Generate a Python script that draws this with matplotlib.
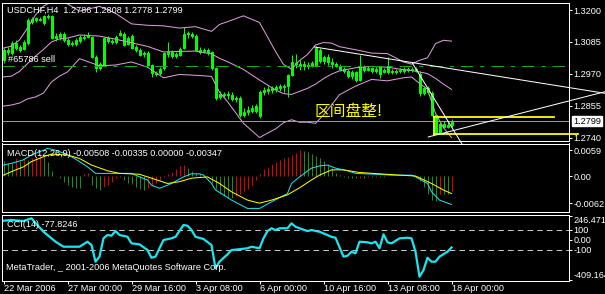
import matplotlib
matplotlib.use("Agg")
import matplotlib.pyplot as plt
from matplotlib.patches import Rectangle

plt.rcParams["font.family"] = ["Liberation Sans", "DejaVu Sans"]
plt.rcParams["lines.scale_dashes"] = False

# ---- price data (USDCHF H4, 22 Mar 08:00 .. 18 Apr 00:00) ----
opens = [1.3020, 1.3049, 1.3045, 1.3063, 1.3067, 1.3060, 1.3081, 1.3157, 1.3164, 1.3164,
         1.3153, 1.3175, 1.3178, 1.3099, 1.3103, 1.3114, 1.3092, 1.3078, 1.3078, 1.3088,
         1.3099, 1.3103, 1.3103, 1.3031, 1.2991, 1.3002, 1.3099, 1.3088, 1.3085, 1.3110,
         1.3114, 1.3078, 1.3106, 1.3067, 1.3056, 1.3042, 1.3045, 1.3002, 1.2973, 1.2973,
         1.2991, 1.3042, 1.3049, 1.3034, 1.3038, 1.3063, 1.3114, 1.3114, 1.3106, 1.3056,
         1.3052, 1.3056, 1.3049, 1.2991, 1.2887, 1.2894, 1.2898, 1.2894, 1.2880, 1.2883,
         1.2822, 1.2833, 1.2836, 1.2854, 1.2818, 1.2905, 1.2908, 1.2912, 1.2916, 1.2919,
         1.2923, 1.2926, 1.2966, 1.3009, 1.3006, 1.2998, 1.3002, 1.2998, 1.3002, 1.3056,
         1.3016, 1.3031, 1.3013, 1.3006, 1.2998, 1.2988, 1.2980, 1.2962, 1.2977, 1.2948,
         1.2995, 1.2984, 1.2991, 1.2980, 1.2995, 1.2977, 1.2977, 1.2980, 1.2977, 1.2980,
         1.2980, 1.2988, 1.2984, 1.2988, 1.2970, 1.2901, 1.2919, 1.2901, 1.2822, 1.2761,
         1.2790, 1.2779, 1.2786]
highs = [1.3063, 1.3067, 1.3088, 1.3092, 1.3074, 1.3092, 1.3171, 1.3175, 1.3175, 1.3175,
         1.3182, 1.3186, 1.3182, 1.3117, 1.3121, 1.3121, 1.3099, 1.3088, 1.3099, 1.3110,
         1.3114, 1.3121, 1.3106, 1.3038, 1.3013, 1.3103, 1.3106, 1.3096, 1.3110, 1.3128,
         1.3121, 1.3106, 1.3114, 1.3074, 1.3063, 1.3052, 1.3052, 1.3006, 1.2980, 1.2995,
         1.3049, 1.3085, 1.3056, 1.3049, 1.3067, 1.3139, 1.3124, 1.3121, 1.3114, 1.3067,
         1.3063, 1.3063, 1.3052, 1.2995, 1.2908, 1.2905, 1.2908, 1.2905, 1.2890, 1.2890,
         1.2847, 1.2854, 1.2858, 1.2862, 1.2912, 1.2923, 1.2926, 1.2926, 1.2930, 1.2934,
         1.2934, 1.2970, 1.3038, 1.3042, 1.3020, 1.3016, 1.3013, 1.3016, 1.3070, 1.3063,
         1.3038, 1.3042, 1.3027, 1.3013, 1.3006, 1.2995, 1.2988, 1.2984, 1.2980, 1.3038,
         1.3002, 1.2998, 1.2995, 1.2995, 1.2998, 1.2991, 1.3031, 1.2988, 1.2988, 1.2991,
         1.2995, 1.2995, 1.2995, 1.2995, 1.2980, 1.2926, 1.2926, 1.2908, 1.2826, 1.2797,
         1.2800, 1.2797, 1.2808]
lows = [1.3009, 1.3038, 1.3038, 1.3056, 1.3049, 1.3056, 1.3074, 1.3150, 1.3157, 1.3160,
        1.3146, 1.3168, 1.3096, 1.3088, 1.3092, 1.3085, 1.3070, 1.3070, 1.3070, 1.3081,
        1.3092, 1.3099, 1.3027, 1.2977, 1.2984, 1.2998, 1.3081, 1.3078, 1.3078, 1.3106,
        1.3070, 1.3074, 1.3060, 1.3049, 1.3034, 1.3031, 1.2998, 1.2959, 1.2962, 1.2966,
        1.2984, 1.3031, 1.3027, 1.3027, 1.3034, 1.3060, 1.3099, 1.3099, 1.3052, 1.3042,
        1.3045, 1.3038, 1.2984, 1.2876, 1.2880, 1.2883, 1.2880, 1.2872, 1.2869, 1.2815,
        1.2815, 1.2822, 1.2829, 1.2829, 1.2811, 1.2894, 1.2898, 1.2901, 1.2905, 1.2908,
        1.2905, 1.2887, 1.2962, 1.2991, 1.2984, 1.2984, 1.2988, 1.2995, 1.2998, 1.3009,
        1.3006, 1.3002, 1.2991, 1.2995, 1.2980, 1.2973, 1.2955, 1.2952, 1.2941, 1.2944,
        1.2977, 1.2980, 1.2973, 1.2973, 1.2955, 1.2973, 1.2970, 1.2970, 1.2970, 1.2973,
        1.2973, 1.2977, 1.2977, 1.2977, 1.2890, 1.2894, 1.2898, 1.2818, 1.2754, 1.2754,
        1.2775, 1.2775, 1.2778]
closes = [1.3056, 1.3056, 1.3081, 1.3081, 1.3056, 1.3085, 1.3164, 1.3168, 1.3171, 1.3168,
          1.3178, 1.3178, 1.3099, 1.3106, 1.3114, 1.3092, 1.3078, 1.3081, 1.3092, 1.3103,
          1.3103, 1.3110, 1.3031, 1.2991, 1.3006, 1.3099, 1.3088, 1.3085, 1.3103, 1.3117,
          1.3074, 1.3099, 1.3063, 1.3056, 1.3038, 1.3045, 1.3002, 1.2973, 1.2970, 1.2988,
          1.3045, 1.3049, 1.3034, 1.3042, 1.3060, 1.3114, 1.3117, 1.3106, 1.3056, 1.3049,
          1.3056, 1.3049, 1.2991, 1.2883, 1.2898, 1.2898, 1.2894, 1.2880, 1.2883, 1.2822,
          1.2833, 1.2840, 1.2847, 1.2836, 1.2905, 1.2912, 1.2916, 1.2919, 1.2923, 1.2926,
          1.2926, 1.2966, 1.3013, 1.3006, 1.2998, 1.3006, 1.2998, 1.3009, 1.3063, 1.3016,
          1.3031, 1.3013, 1.3006, 1.2998, 1.2988, 1.2980, 1.2962, 1.2977, 1.2948, 1.2995,
          1.2984, 1.2991, 1.2980, 1.2988, 1.2970, 1.2984, 1.2998, 1.2977, 1.2980, 1.2984,
          1.2988, 1.2984, 1.2988, 1.2984, 1.2901, 1.2919, 1.2905, 1.2822, 1.2757, 1.2790,
          1.2779, 1.2786, 1.2799]

# Bollinger bands (20, 2), read at these bars
band_idx = [0, 2, 4, 6, 8, 10, 12, 14, 16, 19, 24, 28, 32, 36, 40, 44, 48, 52, 54, 56,
            60, 64, 68, 70, 72, 74, 76, 78, 80, 82, 84, 88, 92, 96, 100, 102, 104, 106, 108, 110, 112]
bb_upper = [1.3063, 1.3070, 1.3092, 1.3135, 1.3182, 1.3214, 1.3229, 1.3229, 1.3222, 1.3196,
            1.3213, 1.3188, 1.3150, 1.3145, 1.3143, 1.3135, 1.3140, 1.3123, 1.3148, 1.3158,
            1.3179, 1.3155, 1.3051, 1.3004, 1.2987, 1.3018, 1.3040, 1.3074, 1.3083, 1.3081,
            1.3068, 1.3057, 1.3045, 1.3043, 1.3013, 1.3005, 1.3019, 1.3028, 1.3079, 1.3091, 1.3088]
bb_mid = [1.2959, 1.2962, 1.2979, 1.3007, 1.3034, 1.3058, 1.3085, 1.3096, 1.3099, 1.3110,
          1.3106, 1.3095, 1.3082, 1.3069, 1.3049, 1.3051, 1.3052, 1.3042, 1.3026, 1.3014,
          1.2986, 1.2948, 1.2912, 1.2899, 1.2896, 1.2907, 1.2918, 1.2933, 1.2953, 1.2969,
          1.2981, 1.2992, 1.2997, 1.2994, 1.2985, 1.2982, 1.2977, 1.2971, 1.2954, 1.2933, 1.2914]
bb_lower = [1.2854, 1.2858, 1.2865, 1.2880, 1.2887, 1.2901, 1.2941, 1.2962, 1.2977, 1.3025,
            1.2999, 1.3002, 1.3013, 1.2994, 1.2956, 1.2968, 1.2965, 1.2961, 1.2904, 1.2870,
            1.2792, 1.2741, 1.2772, 1.2794, 1.2805, 1.2796, 1.2796, 1.2792, 1.2822, 1.2858,
            1.2895, 1.2926, 1.2950, 1.2945, 1.2956, 1.2959, 1.2936, 1.2915, 1.2828, 1.2776, 1.2741]

price_ticks = [1.3200, 1.3085, 1.2970, 1.2855, 1.2740]
order_price = 1.3000
bid_price = 1.2799

# objects drawn on the chart: (bar index, price) anchors
white_lines = [((77.7, 1.3067), (150.4, 1.2900)),
               ((102.2, 1.3009), (123.4, 1.2512)),
               ((106.2, 1.2743), (150.4, 1.2906))]
box_left = 107.7
box_top = 1.2814
box_top_end = 137.5
box_bottom = 1.2754
box_bottom_end = 143.6

# MACD(12,26,9)
macd_hist = [0.0035, 0.0030, 0.0030, 0.0040, 0.0035, 0.0040, 0.0037, 0.0040, 0.0044, 0.0048,
             0.0044, 0.0033, 0.0012, 0.0000, -0.0005, -0.0013, -0.0020, -0.0025, -0.0028, -0.0028,
             0.0005, 0.0008, -0.0020, -0.0028, -0.0032, -0.0025, -0.0021, -0.0013, -0.0005, -0.0002,
             -0.0010, -0.0015, -0.0018, -0.0025, -0.0030, -0.0032, -0.0028, -0.0022, -0.0015, -0.0008,
             -0.0002, 0.0005, 0.0010, 0.0015, 0.0022, 0.0025, 0.0018, 0.0012, 0.0008, 0.0004,
             0.0002, 0.0000, -0.0015, -0.0030, -0.0040, -0.0045, -0.0050, -0.0050, -0.0045, -0.0040,
             -0.0035, -0.0030, -0.0020, -0.0010, 0.0005, 0.0015, 0.0020, 0.0028, 0.0032, 0.0036,
             0.0040, 0.0044, 0.0048, 0.0052, 0.0060, 0.0058, 0.0055, 0.0050, 0.0045, 0.0040,
             0.0035, 0.0028, 0.0018, 0.0008, 0.0002, -0.0002, -0.0004, -0.0004, -0.0005, -0.0004,
             -0.0004, -0.0003, -0.0003, -0.0002, -0.0002, -0.0002, -0.0001, -0.0001, -0.0001, 0.0000,
             0.0000, 0.0000, 0.0000, 0.0000, -0.0012, -0.0025, -0.0040, -0.0055, -0.0058, -0.0040,
             -0.0040, -0.0040, -0.0035]
macd_idx = [0, 2, 5, 7, 10, 11, 13, 15, 17, 19, 21, 23, 26, 28, 31, 32, 34, 36, 37, 39,
            41, 42, 45, 47, 49, 50, 52, 53, 55, 57, 61, 64, 67, 71, 72, 74, 77, 79, 81, 83,
            86, 88, 93, 97, 102, 103, 106, 107, 109, 112]
macd_main = [0.0025, 0.0029, 0.0037, 0.0048, 0.0059, 0.0063, 0.0059, 0.0052, 0.0044, 0.0033,
             0.0021, 0.0006, 0.0006, 0.0006, 0.0006, 0.0006, -0.0002, -0.0009, -0.0021, -0.0028,
             -0.0021, -0.0017, -0.0002, 0.0005, 0.0005, 0.0002, -0.0017, -0.0032, -0.0043, -0.0055,
             -0.0074, -0.0074, -0.0059, -0.0040, -0.0017, -0.0002, 0.0018, 0.0023, 0.0025, 0.0018,
             0.0012, 0.0006, 0.0004, 0.0002, 0.0002, -0.0002, -0.0017, -0.0036, -0.0055, -0.0065]
sig_idx = [0, 2, 5, 7, 10, 12, 16, 19, 22, 26, 29, 34, 37, 41, 44, 47, 51, 54, 57, 61,
           64, 67, 71, 74, 77, 79, 82, 85, 89, 94, 99, 103, 107, 110, 112]
macd_signal = [0.0002, 0.0010, 0.0021, 0.0033, 0.0044, 0.0050, 0.0048, 0.0040, 0.0025, 0.0012,
               0.0006, 0.0004, -0.0005, -0.0017, -0.0013, -0.0005, -0.0002, -0.0017, -0.0036, -0.0055,
               -0.0062, -0.0055, -0.0043, -0.0027, -0.0009, 0.0002, 0.0014, 0.0014, 0.0008, 0.0005,
               0.0002, 0.0000, -0.0017, -0.0032, -0.0040]

# CCI(14)
cci_idx = [0, 2, 5, 7, 8, 10, 12, 13, 15, 19, 21, 22, 23, 24, 25, 26, 27, 28, 29, 31,
           32, 34, 36, 37, 38, 39, 40, 42, 43, 45, 46, 47, 48, 50, 52, 53, 54, 56, 57, 61,
           62, 64, 65, 66, 67, 68, 69, 71, 72, 73, 74, 76, 77, 79, 82, 83, 85, 86, 87, 88,
           89, 91, 92, 93, 94, 95, 96, 97, 99, 101, 102, 103, 104, 105, 106, 107, 108, 109, 111, 112]
cci_vals = [194, 201, 191, 218, 170, 82, 15, -19, -70, -70, -19, -53, -222, -171, 15, 49, 42, 89, 49, 31,
            -36, -46, -104, -182, -171, -86, -2, 15, 31, 150, 143, 99, 31, 8, -53, -289, -222, -147, -104, -86,
            -70, -86, 15, 89, 117, 99, 117, 117, 167, 133, 117, 89, 99, 82, 31, 21, -171, -161, -121, -137,
            -19, -25, -36, -19, -86, 56, -25, -36, 15, 21, 15, -121, -375, -307, -182, -222, -222, -171, -121, -78]

date_idx = [0, 16, 32, 48, 64, 80, 96, 112]
date_labels = ["22 Mar 2006", "27 Mar 00:00", "29 Mar 16:00", "3 Apr 08:00",
               "6 Apr 00:00", "10 Apr 16:00", "13 Apr 08:00", "18 Apr 00:00"]

# ---- layout helpers (pixel based) ----
W, H = 605, 294
PX = 0.72          # one pixel in points at 100 dpi
LIME = "#00ff00"
FS = 6.6

fig = plt.figure(figsize=(6.05, 2.94), dpi=100, facecolor="black")


def panel(top, bottom):
    ax = fig.add_axes([2 / W, 1 - bottom / H, 567 / W, (bottom - top) / H])
    ax.set_facecolor("black")
    for s in ax.spines.values():
        s.set_color("white")
        s.set_linewidth(PX)
    # 4 px per bar, bar centres on pixel centres
    ax.set_xlim(-0.375, 141.375)
    ax.yaxis.tick_right()
    ax.tick_params(axis="y", colors="white", length=2.2, width=PX, pad=1.2, labelsize=FS)
    ax.tick_params(axis="x", bottom=False, labelbottom=False)
    return ax


def ftext(x, y, s, **kw):
    kw.setdefault("color", "white")
    kw.setdefault("fontsize", FS)
    kw.setdefault("va", "center")
    fig.text(x / W, 1 - y / H, s, **kw)


# ---- main chart ----
ax = panel(2.5, 141)
ax.set_ylim(1.27284, 1.3227)

for band in (bb_upper, bb_mid, bb_lower):
    ax.plot(band_idx, band, color="#dda0dd", lw=PX)

for i in range(len(closes)):
    o, h, l, c = opens[i], highs[i], lows[i], closes[i]
    ax.vlines(i, l, h, color=LIME, lw=PX)
    fill = "black" if c >= o else "white"
    ax.add_patch(Rectangle((i - 0.25, min(o, c)), 0.5, max(abs(c - o), 0.00018),
                           facecolor=fill, edgecolor=LIME, lw=PX))

ax.axhline(order_price, color="#1fa51f", lw=PX, dashes=(9, 5, 3, 5))
ax.axhline(bid_price, color="#9a9a9a", lw=PX)

for (x0, y0), (x1, y1) in white_lines:
    ax.plot([x0, x1], [y0, y1], color="white", lw=PX, clip_on=False, zorder=5)

ax.plot([box_left, box_top_end], [box_top, box_top], color="yellow", lw=1.3, clip_on=False)
ax.plot([box_left, box_bottom_end], [box_bottom, box_bottom], color="yellow", lw=1.3, clip_on=False)
ax.plot([box_left, box_left], [box_bottom, box_top], color="yellow", lw=1.3)

ax.set_yticks(price_ticks)
ax.set_yticklabels([f"{v:.4f}" for v in price_ticks])

ax.text(86.3, 1.2833, "区间盘整!", color="yellow", fontsize=11.3, ha="center", va="center",
        family=["Noto Sans CJK SC", "DejaVu Sans"])

ftext(7, 10, "USDCHF,H4  %.4f %.4f %.4f %.4f" % (opens[-1], highs[-1], lows[-1], closes[-1]))
ftext(8, 59, "#65786 sell")
ftext(573, 121, f"{bid_price:.4f}", color="black",
      bbox=dict(facecolor="white", edgecolor="white", pad=0.6))

# ---- MACD ----
am = panel(143.5, 211.5)
am.set_ylim(-0.0081, 0.00742)
for i, v in enumerate(macd_hist):
    prev = macd_hist[i - 1] if i > 0 else v
    am.vlines(i, 0, v, color="#e00000" if v > prev else "#1e8c1e", lw=PX)
am.plot(macd_idx, macd_main, color="#19e6f0", lw=PX)
am.plot(sig_idx, macd_signal, color="yellow", lw=PX)
am.set_yticks([0.0059, 0.0, -0.0062])
am.set_yticklabels(["0.0059", "0.00", "-0.0062"])
ftext(7, 153.5, "MACD(12,26,9) -0.00508 -0.00335 0.00000 -0.00347")

# ---- CCI ----
ac = panel(214.5, 281)
ac.set_ylim(-418, 257)
for lvl in (100, -100):
    ac.axhline(lvl, color="#c8c8c8", lw=PX, dashes=(4, 3))
ac.plot(cci_idx, cci_vals, color="#19e6f0", lw=1.6, solid_joinstyle="round")
ac.set_yticks([246.471, 100, 0, -100, -409.164])
ac.set_yticklabels(["246.471", "100", "0.00", "-100", "-409.164"])
labs = ac.get_yticklabels()
labs[0].set_va("top")
labs[-1].set_va("bottom")
ac.set_xticks(date_idx)
ac.set_xticklabels(date_labels, ha="left")
ac.tick_params(axis="x", bottom=True, labelbottom=True, colors="white", length=2.2,
               width=PX, pad=0.2, labelsize=FS)
ftext(7, 224.5, "CCI(14) %.4f" % -77.8246)
ftext(6, 268, "MetaTrader, _ 2001-2006 MetaQuotes Software Corp.")

fig.savefig("out.png", dpi=100, facecolor="black")
